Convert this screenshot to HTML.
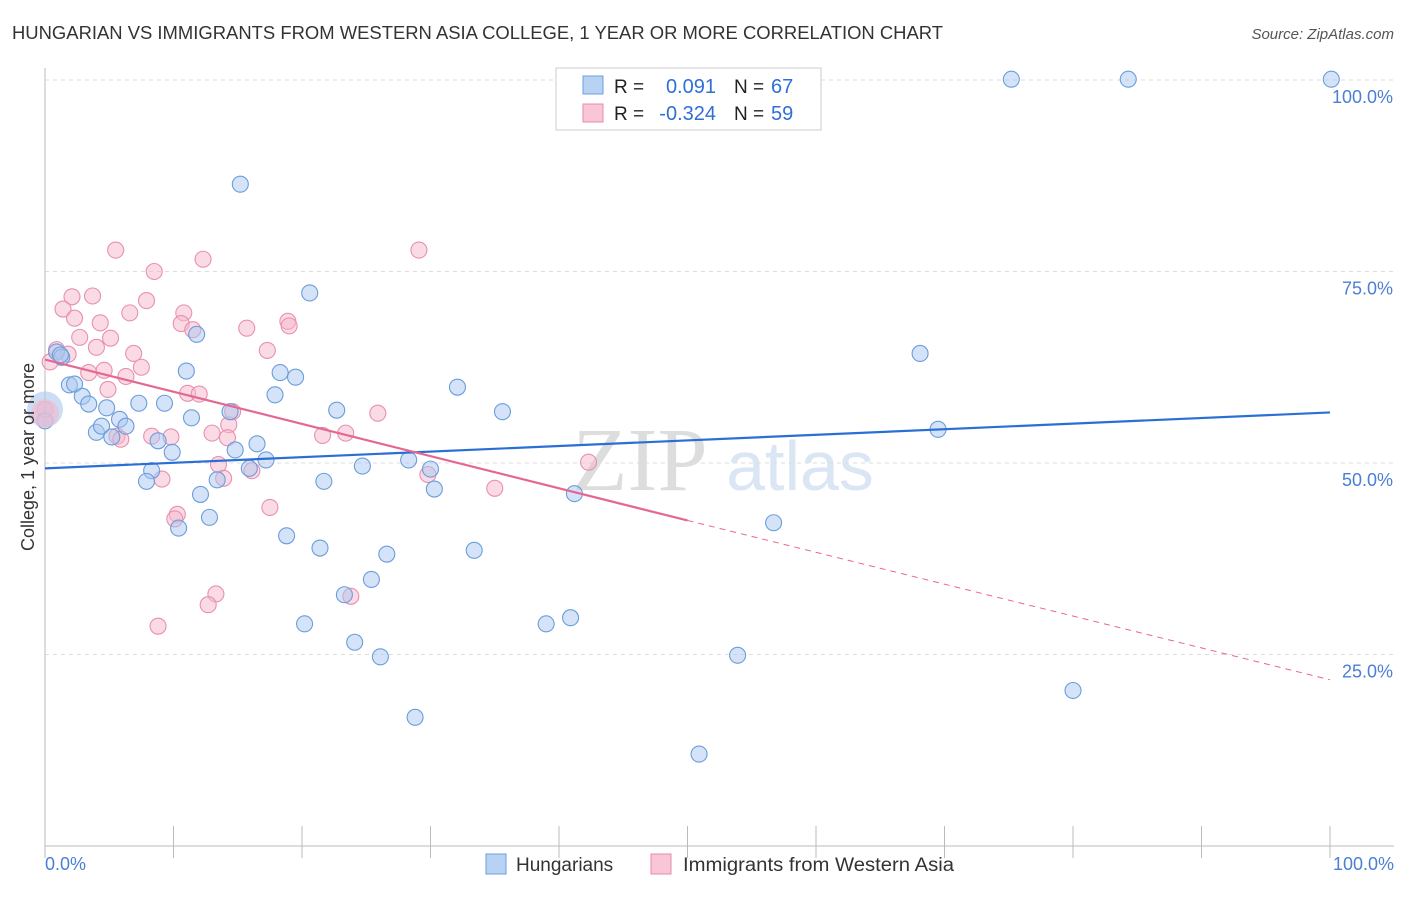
<!DOCTYPE html>
<html><head><meta charset="utf-8"><style>
body{margin:0;background:#fff;font-family:"Liberation Sans",sans-serif;}
</style></head><body>
<svg id="chart" width="1406" height="892" xmlns="http://www.w3.org/2000/svg">
<text x="12" y="39" font-size="18" fill="#333" textLength="931" lengthAdjust="spacingAndGlyphs">HUNGARIAN VS IMMIGRANTS FROM WESTERN ASIA COLLEGE, 1 YEAR OR MORE CORRELATION CHART</text>
<text x="1394" y="39" font-size="15" fill="#555" font-style="italic" text-anchor="end">Source: ZipAtlas.com</text>
<text x="640" y="490" font-size="90" fill="#ddd" font-family="Liberation Serif,serif" text-anchor="middle">ZIP</text>
<text x="800" y="490" font-size="70" fill="#dbe6f4" text-anchor="middle">atlas</text>
<g id="grid"></g>
<g id="marks"></g>
<text x="34" y="457" font-size="18" fill="#333" text-anchor="middle" transform="rotate(-90 34 457)">College, 1 year or more</text>
<text x="45" y="870" font-size="18" fill="#4a7fd4">0.0%</text>
<text x="1394" y="870" font-size="18" fill="#4a7fd4" text-anchor="end">100.0%</text>
<g>
<rect x="556" y="68" width="265" height="62" fill="#fff" stroke="#ccc"/>
<rect x="583" y="76" width="20" height="18" fill="#b8d2f4" stroke="#6c9de0"/>
<rect x="583" y="104" width="20" height="18" fill="#f8c6d6" stroke="#e88aa8"/>
<text x="614" y="93" font-size="19" fill="#222">R =</text>
<text x="716" y="93" font-size="20" fill="#2f6fd6" text-anchor="end">0.091</text>
<text x="734" y="93" font-size="19" fill="#222">N =</text>
<text x="771" y="93" font-size="20" fill="#2f6fd6">67</text>
<text x="614" y="120" font-size="19" fill="#222">R =</text>
<text x="716" y="120" font-size="20" fill="#2f6fd6" text-anchor="end">-0.324</text>
<text x="734" y="120" font-size="19" fill="#222">N =</text>
<text x="771" y="120" font-size="20" fill="#2f6fd6">59</text>
</g>
<g>
<rect x="486" y="854" width="20" height="20" fill="#b8d2f4" stroke="#6c9de0"/>
<text x="516" y="871" font-size="19" fill="#333">Hungarians</text>
<rect x="651" y="854" width="20" height="20" fill="#f8c6d6" stroke="#e88aa8"/>
<text x="683" y="871" font-size="19" fill="#333" textLength="271" lengthAdjust="spacingAndGlyphs">Immigrants from Western Asia</text>
</g>
</svg>
<script>
const yTicks=[25,50,75,100];
const yTickLabels=["25.0%","50.0%","75.0%","100.0%"];
const xTicks=[0,10,20,30,40,50,60,70,80,90,100];
const blueX=[75.2,84.3,100.1,15.2,20.6,68.1,11.8,0.9,1.3,1.9,2.3,2.9,3.4,4.8,4,4.4,5.8,6.3,5.2,7.3,9.3,11,11.4,14.4,8.8,9.9,8.3,7.9,12.1,12.8,10.4,13.4,14.8,16.5,17.2,15.9,18.3,19.5,17.9,22.7,21.7,24.7,32.1,35.6,28.3,30,30.3,41.2,18.8,21.4,26.6,33.4,25.4,23.3,20.2,24.1,26.1,39,40.9,28.8,50.9,53.9,56.7,69.5,80,0,1.2];
const blueY=[100.1,100.1,100.1,86.4,72.2,64.3,66.8,64.5,63.8,60.2,60.3,58.7,57.7,57.2,54,54.8,55.7,54.8,53.4,57.8,57.8,62,55.9,56.7,52.9,51.4,49,47.6,45.9,42.9,41.5,47.8,51.7,52.5,50.4,49.3,61.8,61.2,58.9,56.9,47.6,49.6,59.9,56.7,50.4,49.2,46.6,46,40.5,38.9,38.1,38.6,34.8,32.8,29,26.6,24.7,29,29.8,16.8,12,24.9,42.2,54.4,20.3,55.5,64.1];
const pinkX=[5.5,8.5,12.3,29.1,2.1,3.7,7.9,1.4,2.3,4.3,6.6,10.8,10.6,11.5,15.7,18.9,19,2.7,5.1,4,0.9,1.8,6.9,7.5,6.3,4.9,3.4,4.6,17.3,11.1,12,14.3,14.6,13,14.2,5.6,5.9,8.3,9.8,21.6,23.4,25.9,13.5,13.9,16.1,9.1,10.3,10.1,17.5,29.8,35,42.3,13.3,12.7,8.8,23.8,0,0.4];
const pinkY=[77.8,75,76.6,77.8,71.7,71.8,71.2,70.1,68.9,68.3,69.6,69.6,68.2,67.4,67.6,68.5,67.9,66.4,66.3,65.1,64.8,64.2,64.3,62.5,61.3,59.6,61.8,62.1,64.7,59.1,59,55,56.7,53.9,53.3,53.5,53.1,53.5,53.4,53.6,53.9,56.5,49.8,48,49,47.9,43.3,42.7,44.2,48.5,46.7,50.1,32.9,31.5,28.7,32.6,57,63.2];
const xs=v=>45+v*12.85,ys=v=>846-v*7.66;
const NS="http://www.w3.org/2000/svg";
function mk(tag,attrs,parent){const e=document.createElementNS(NS,tag);for(const k in attrs)e.setAttribute(k,attrs[k]);parent.appendChild(e);return e;}
const grid=document.getElementById('grid'),marks=document.getElementById('marks');
yTicks.forEach((t,i)=>{
 const l=mk('line',{x1:45,x2:1394,y1:ys(t),y2:ys(t),stroke:'#ddd','stroke-dasharray':'4,4'},grid);
 
 
 const tx=mk('text',{x:1393,y:ys(t)+23,'font-size':18,fill:'#4a7fd4','text-anchor':'end'},grid);
 tx.textContent=yTickLabels[i];
 
 
});
const ax=mk('line',{x1:45,x2:45,y1:68,y2:846,stroke:'#bbb'},grid);


const bx=mk('line',{x1:45,x2:1394,y1:846,y2:846,stroke:'#bbb'},grid);


xTicks.forEach(t=>{const l=mk('line',{x1:xs(t),x2:xs(t),y1:826,y2:858,stroke:'#bbb'},grid);
 
 });
function dots(X,Y,fill,stroke,name){X.forEach((x,i)=>{const c=mk('circle',{cx:xs(x),cy:ys(Y[i]),r:8,fill:fill,stroke:stroke,'stroke-width':1.1,'fill-opacity':0.5},marks);
 
 });}
dots(pinkX,pinkY,'#f6b8cc','#e890ae','pink-point');
dots(blueX,blueY,'#a9c8ef','#6a9ddc','blue-point');
[[0,57,18,'#a9c8ef'],[0,56.5,14,'#f6b8cc']].forEach(b=>{const c=mk('circle',{cx:xs(b[0]),cy:ys(b[1]),r:b[2],fill:b[3],'fill-opacity':0.6},marks);
 
 });
const bl=mk('line',{x1:xs(0),y1:ys(49.3),x2:xs(100),y2:ys(56.6),stroke:'#2b6fd6','stroke-width':2.2},marks);


const pl=mk('line',{x1:xs(0),y1:ys(63.5),x2:xs(50),y2:ys(42.5),stroke:'#e46892','stroke-width':2.2},marks);


const pd=mk('line',{x1:xs(50),y1:ys(42.5),x2:xs(100),y2:ys(21.7),stroke:'#e46892','stroke-width':1,'stroke-dasharray':'6,5'},marks);


</script>
</body></html>
